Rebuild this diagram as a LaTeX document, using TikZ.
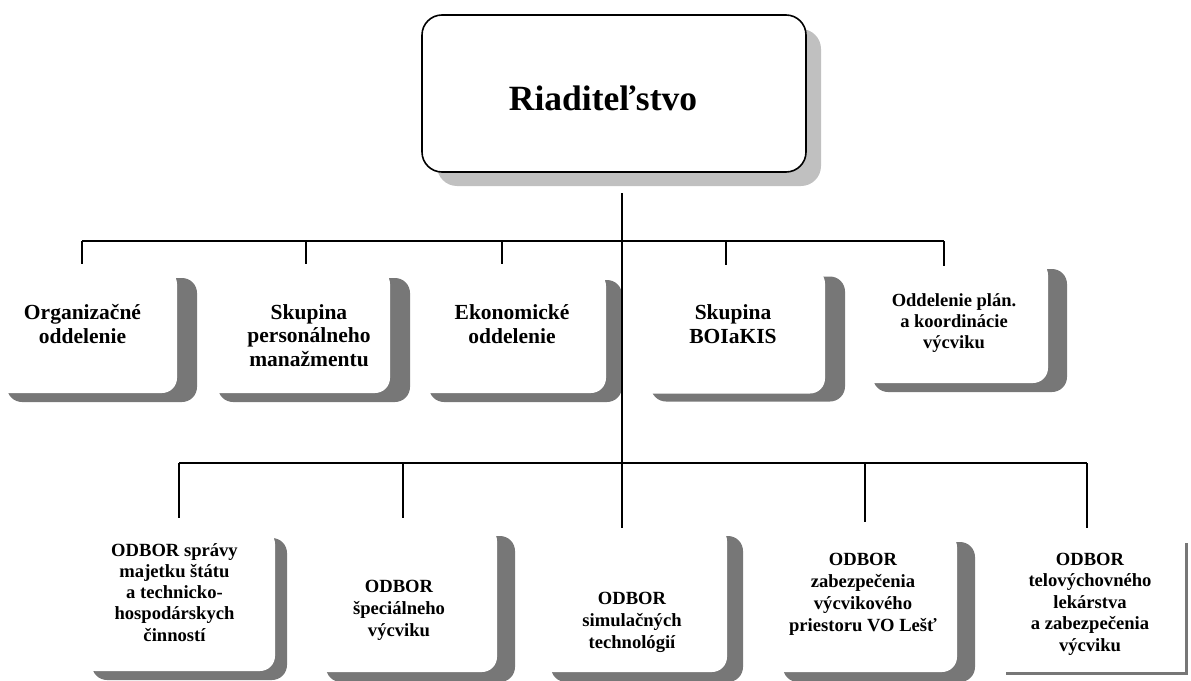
\documentclass[tikz,border=0pt]{standalone}
\usepackage{fontspec}
\setmainfont{Liberation Serif}
\usetikzlibrary{shadows}
\definecolor{shdark}{HTML}{777777}
\definecolor{shlight}{HTML}{C0C0C0}
\tikzset{
  conn/.style={draw=black, line width=1.6pt},
  unitbox/.style n args={4}{rectangle, rounded corners=15pt, fill=white, draw=none, inner sep=0pt,
     minimum width=#1pt, minimum height=#2pt,
     general shadow={shadow xshift=#3pt, shadow yshift=-#4pt, fill=shdark}},
  flatbox/.style 2 args={rectangle, fill=white, draw=none, inner sep=0pt,
     minimum width=#1pt, minimum height=#2pt,
     general shadow={shadow xshift=3pt, shadow yshift=-3pt, fill=shdark}},
  topbox/.style={rectangle, rounded corners=20pt, fill=white, draw=black, line width=1.6pt, inner sep=0pt,
     minimum width=384pt, minimum height=157pt,
     general shadow={shadow xshift=15pt, shadow yshift=-14pt, fill=shlight, draw=none}},
  lblA/.style={align=center, inner sep=0pt, anchor=base, font=\bfseries\fontsize{21.5}{23.5}\selectfont},
  lblS/.style={align=center, inner sep=0pt, anchor=base, font=\bfseries\fontsize{18.5}{21}\selectfont},
  lblB/.style={align=center, inner sep=0pt, anchor=base, font=\bfseries\fontsize{18.6}{21.7}\selectfont},
}
\begin{document}
\begin{tikzpicture}[x=1pt,y=-1pt]
\useasboundingbox (0,0) rectangle (1191,680);

% top box
\node[topbox] (dir) at (614,93.5) {};
\node[anchor=base, inner sep=0pt, font=\bfseries\fontsize{35.5}{38}\selectfont] (dirt) at (603,110) {Riaditeľstvo};

% first row boxes
\node[unitbox={190}{124}{20}{9}] (r1) at (82,331) {};
\node[unitbox={192}{124}{20}{9}] (r2) at (294,331) {};
\node[unitbox={193}{122}{16}{9}] (r3) at (509.5,332) {};
\node[unitbox={194}{125}{20}{8}] (r4) at (728,331) {};
\node[unitbox={194}{123}{19}{9}] (r5) at (951,321.5) {};

% (anchor base = baseline of the last line)
\node[lblA] (r1t) at (82.5,343) {Organizačné\\oddelenie};
\node[lblA] (r2t) at (309,366) {Skupina\\personálneho\\manažmentu};
\node[lblA] (r3t) at (512,343) {Ekonomické\\oddelenie};
\node[lblA] (r4t) at (733,343) {Skupina\\BOIaKIS};
\node[lblS] (r5t) at (954,348) {Oddelenie plán.\\a koordinácie\\výcviku};

% second row boxes
\node[unitbox={195}{142}{12}{9}] (b1) at (177.5,600) {};
\node[unitbox={189}{146}{18}{10}] (b2) at (402.5,599) {};
\node[unitbox={192}{146}{16}{10}] (b3) at (631,599) {};
\node[unitbox={192}{140}{18}{10}] (b4) at (861,602) {};
\node[flatbox={182}{132}] (b5) at (1094,606) {};

\node[lblB, font=\bfseries\fontsize{18.6}{21.2}\selectfont] (b1t) at (174.5,641) {ODBOR správy\\majetku štátu\\a technicko-\\hospodárskych\\činností};
\node[lblB] (b2t) at (399,636) {ODBOR\\špeciálneho\\výcviku};
\node[lblB] (b3t) at (632,648) {ODBOR\\simulačných\\technológií};
\node[lblB] (b4t) at (863,631) {ODBOR\\zabezpečenia\\výcvikového\\priestoru VO Lešť};
\node[lblB, font=\bfseries\fontsize{18.6}{21.5}\selectfont] (b5t) at (1090,651) {ODBOR\\telovýchovného\\lekárstva\\a zabezpečenia\\výcviku};

% connectors
\coordinate (trunktop) at (622,193);
\coordinate (trunkbot) at (622,528);
\coordinate (busAl) at (82,241);
\coordinate (busAr) at (944,241);
\coordinate (busBl) at (179,463);
\coordinate (busBr) at (1087,463);

\coordinate (dA1) at (82,264);
\coordinate (dA2) at (306,264);
\coordinate (dA3) at (502,264);
\coordinate (dA4) at (726,265);
\coordinate (dA5) at (944,266);

\coordinate (dB1) at (179,518);
\coordinate (dB2) at (403,518);
\coordinate (dB4) at (865,522);
\coordinate (dB5) at (1087,528);

\draw[conn] (trunktop) -- (trunkbot);
\draw[conn] (busAl) -- (busAr);
\draw[conn] (busBl) -- (busBr);
\foreach \d in {dA1,dA2,dA3,dA4,dA5}{\draw[conn] (\d |- busAl) -- (\d);}
\foreach \d in {dB1,dB2,dB4,dB5}{\draw[conn] (\d |- busBl) -- (\d);}
\end{tikzpicture}
\end{document}
